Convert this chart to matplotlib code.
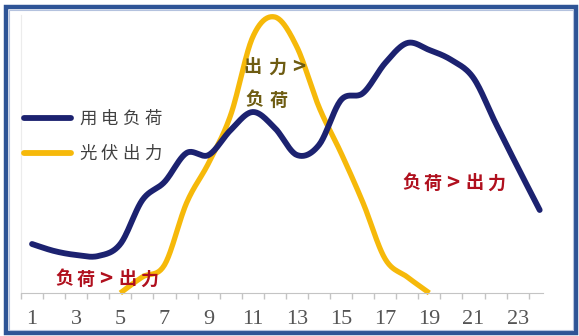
import numpy as np
import matplotlib
matplotlib.use("Agg")
import matplotlib.pyplot as plt
from matplotlib.patches import Rectangle
from matplotlib.lines import Line2D

plt.rcParams['font.family'] = ['Noto Sans CJK SC', 'DejaVu Sans']

# 数据 (小时 1-24)
horas = list(range(1, 25))
carga = [49, 42, 38, 37, 49, 93, 111, 140, 138, 163, 181, 165,
         138, 148, 193, 200, 230, 250, 243, 233, 215, 170, 126, 83]
horas_pv = list(range(5, 20))
pv = [0, 16, 28, 90, 130, 178, 256, 276, 246, 186, 140, 90, 34, 16, 0]
etiquetas_x = [str(h) for h in range(1, 24, 2)]

W, H = 579, 336
AZUL = '#1c2270'
AMARILLO = '#f6b90a'
ROJO = '#b0101e'
OLIVA = '#6e5c12'


def suavizar(xs, ys, n=24):
    # curva suavizada tipo Excel (Catmull-Rom)
    p = np.column_stack([xs, ys]).astype(float)
    p = np.vstack([p[0], p, p[-1]])
    out = []
    for i in range(1, len(p) - 2):
        p0, p1, p2, p3 = p[i - 1], p[i], p[i + 1], p[i + 2]
        t = np.linspace(0, 1, n)[:, None]
        seg = 0.5 * (2 * p1 + (-p0 + p2) * t + (2 * p0 - 5 * p1 + 4 * p2 - p3) * t ** 2
                     + (-p0 + 3 * p1 - 3 * p2 + p3) * t ** 3)
        out.append(seg if i == 1 else seg[1:])
    out = np.vstack(out)
    return out[:, 0], out[:, 1]


def fx(x):
    return x / W


def fy(y):
    return 1 - y / H


def texto_chars(fig, x, y, s, offsets, size, **kw):
    for c, dx in zip(s, offsets):
        fs = size + 3 if c == '>' else size
        fig.text(fx(x + dx), fy(y), c, ha='left', va='center', fontsize=fs, **kw)


fig = plt.figure(figsize=(W / 100, H / 100), dpi=100)
ax = fig.add_axes([fx(21), fy(293), fx(522), 278 / H])

xc, yc = suavizar(horas, carga)
ax.plot(xc, yc, color=AZUL, lw=4.2, solid_capstyle='round', clip_on=False, zorder=3)
xp, yp = suavizar(horas_pv, pv)
ax.plot(xp, yp, color=AMARILLO, lw=3.8, solid_capstyle='butt', clip_on=False, zorder=2)

ax.set_xlim(0.5, 24.15)
ax.set_ylim(0, 278)
ax.set_yticks([])
ax.set_xticks(range(1, 24, 2))
ax.set_xticklabels(etiquetas_x, family='Liberation Serif', fontsize=16, color='#555555')
ax.set_xticks(np.arange(0.5, 24, 1), minor=True)
ax.tick_params(axis='x', which='major', length=0, pad=12)
ax.tick_params(axis='x', which='minor', length=4.5, color='#c4c4c4', width=1)
for s in ['top', 'right']:
    ax.spines[s].set_visible(False)
ax.spines['bottom'].set_color('#c4c4c4')
ax.spines['left'].set_color('#ececec')
ax.patch.set_alpha(0)

# leyenda
fig.add_artist(Line2D([fx(24), fx(71)], [fy(118), fy(118)], color=AZUL, lw=4.2,
                      solid_capstyle='round'))
fig.add_artist(Line2D([fx(24), fx(71)], [fy(153), fy(153)], color=AMARILLO, lw=4.2,
                      solid_capstyle='round'))
paso_ley = [0, 21.7, 43.4, 65.1]
texto_chars(fig, 79, 119, '用电负荷', paso_ley, 12.5, color='#404040')
texto_chars(fig, 79, 154, '光伏出力', paso_ley, 12.5, color='#404040')

# anotaciones
paso_nota = [0, 22, 44, 63, 85]
texto_chars(fig, 243, 67, '出力>', [0, 25, 49], 13, color=OLIVA, fontweight='bold')
texto_chars(fig, 245, 100, '负荷', [0, 25], 13, color=OLIVA, fontweight='bold')
texto_chars(fig, 402, 183, '负荷>出力', paso_nota, 13, color=ROJO, fontweight='bold')
texto_chars(fig, 55, 279, '负荷>出力', paso_nota, 13, color=ROJO, fontweight='bold')

# marco
fig.patches.append(Rectangle((fx(5.5), fy(333)), fx(570), 326 / H, transform=fig.transFigure,
                             fill=False, edgecolor='#2e5496', lw=3.2))
fig.patches.append(Rectangle((fx(8.5), fy(330)), fx(564), 320 / H, transform=fig.transFigure,
                             fill=False, edgecolor='#b4c2de', lw=0.8))

fig.savefig('out.png', dpi=100)
